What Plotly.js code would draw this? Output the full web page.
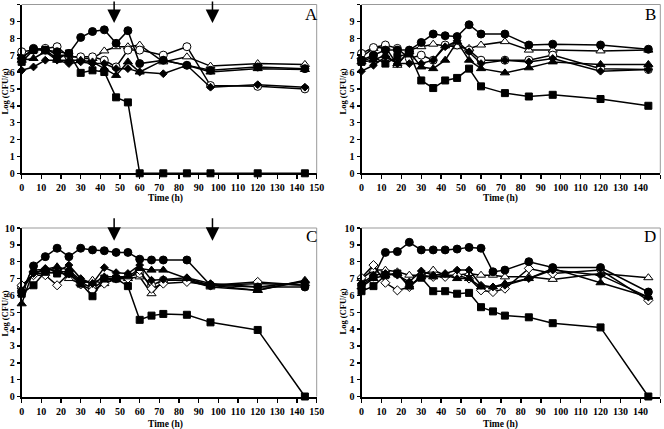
<!DOCTYPE html>
<html><head><meta charset="utf-8">
<script src="https://cdn.plot.ly/plotly-3.0.1.min.js"></script>
<style>body{margin:0;padding:0;background:#fff}#c{width:664px;height:429px}</style>
</head><body><div id="c"></div>
<script>
var tAB = [0,6,12,18,24,30,36,42,48,54,60,72,84,96,120,144];
var tCD = [0,6,12,18,24,30,36,42,48,54,60,66,72,84,96,120,144];

// Panel A
var A_fc = [6.8,7.4,7.3,7.2,7.1,8.05,8.4,8.5,7.7,8.45,6.5,6.7,6.4,6.1,6.3,6.2];
var A_oc = [7.2,7.3,7.4,7.5,6.9,6.9,6.9,6.7,6.3,7.3,7.3,7.0,7.5,5.2,5.15,5.0];
var A_ft = [6.7,6.8,7.2,6.7,6.7,6.7,6.6,6.2,5.8,6.6,6.0,6.7,6.4,6.0,6.2,6.15];
var A_ot = [6.9,7.3,7.4,7.0,7.0,6.8,6.8,7.25,7.5,7.5,7.6,6.6,6.9,6.35,6.5,6.45];
var A_fd = [6.1,6.3,6.7,6.7,6.5,6.6,6.5,6.5,6.2,6.2,6.0,5.9,6.4,5.1,5.25,5.1];
var A_fs = [6.6,7.3,7.3,6.8,7.1,5.95,6.1,6.0,4.5,4.2,0,0,0,0,0,0];

// Panel B
var B_fc = [6.7,7.0,7.3,7.3,7.3,7.75,8.25,8.15,8.1,8.8,8.25,8.25,7.6,7.65,7.6,7.35];
var B_oc = [7.1,7.45,7.6,7.4,6.8,7.0,6.7,7.6,7.6,7.3,6.7,6.7,6.7,7.0,6.2,6.15];
var B_ft = [6.6,6.7,7.0,6.5,7.2,6.3,6.2,6.7,7.8,6.7,6.2,5.95,6.25,6.6,6.45,6.45];
var B_ot = [6.9,7.4,7.5,6.4,7.3,7.5,7.65,7.55,7.5,7.4,7.6,7.8,7.3,7.3,7.25,7.3];
var B_fd = [6.05,6.4,6.9,6.5,6.5,6.5,6.7,7.5,7.85,7.2,6.5,6.7,6.6,6.8,6.05,6.15];
var B_fs = [6.6,6.9,6.5,6.9,7.1,5.5,5.05,5.5,5.65,6.2,5.15,4.75,4.55,4.65,4.4,4.0];

// Panel C
var C_fc = [6.2,7.75,8.3,8.8,8.3,8.8,8.7,8.65,8.55,8.55,8.15,8.1,8.1,8.1,6.6,6.5,6.5];
var C_oc = [6.5,7.3,7.3,7.4,7.4,6.8,6.4,6.9,7.0,7.1,7.3,6.6,6.9,6.9,6.6,6.7,6.6];
var C_ft = [5.5,7.5,7.55,7.7,7.5,6.9,6.7,7.1,7.1,7.1,7.6,7.5,7.5,7.0,6.6,6.3,6.85];
var C_ot = [6.5,7.3,7.5,7.6,7.0,6.7,6.9,6.7,7.0,7.0,7.1,6.1,6.9,6.9,6.5,6.3,6.9];
var C_fd = [6.3,7.3,7.6,7.4,7.8,7.0,6.7,7.65,7.35,7.3,7.8,6.9,6.95,7.05,6.7,6.5,6.8];
var C_od = [6.6,7.2,7.2,6.6,7.3,6.65,6.3,6.7,7.0,7.0,7.5,6.4,6.7,6.8,6.6,6.8,6.6];
var C_fs = [6.1,6.6,7.4,7.3,7.3,6.7,5.95,7.0,7.0,6.55,4.55,4.8,4.9,4.85,4.4,3.95,0];

// Panel D
var D_fc = [6.6,7.1,8.55,8.6,9.15,8.7,8.7,8.7,8.75,8.85,8.8,7.4,7.5,8.0,7.65,7.65,6.2];
var D_ot = [7.0,7.5,7.5,7.4,7.2,7.2,7.5,7.2,7.2,7.3,7.2,7.2,7.1,7.1,6.95,7.3,7.05];
var D_ft = [6.5,7.0,7.2,7.3,6.5,7.1,7.1,7.2,7.0,7.0,6.5,6.5,6.7,7.0,7.6,6.75,5.9];
var D_fd = [6.7,7.2,7.3,7.2,6.8,7.45,7.2,7.3,7.5,7.5,6.6,6.5,6.6,7.0,7.5,7.2,5.9];
var D_od = [7.05,7.8,6.75,6.3,6.5,7.2,7.1,7.1,7.2,7.0,6.3,6.2,6.4,7.6,7.3,7.5,5.7];
var D_fs = [6.25,6.55,7.2,7.3,6.6,7.05,6.25,6.25,6.1,6.15,5.3,5.05,4.8,4.7,4.35,4.1,0];

var xLabel = 'Time (h)';
var yLabel = 'Log (CFU/g)';
var panelLetters = ['A','B','C','D'];

var styles = {
  fc:{symbol:'circle',size:8,fill:'#000'},
  oc:{symbol:'circle',size:8,fill:'#fff'},
  ft:{symbol:'triangle-up',size:8,fill:'#000'},
  ot:{symbol:'triangle-up',size:8,fill:'#fff'},
  fd:{symbol:'diamond',size:6,fill:'#000'},
  od:{symbol:'diamond',size:7,fill:'#fff'},
  fs:{symbol:'square',size:7,fill:'#000'}
};

function tr(x,y,key,ax){
  var s = styles[key];
  return {x:x,y:y,type:'scatter',mode:'lines+markers',xaxis:'x'+ax,yaxis:'y'+ax,
    line:{color:'#000',width:1.5},
    marker:{symbol:s.symbol,size:s.size,color:s.fill,line:{color:'#000',width:1}},
    showlegend:false,cliponaxis:false};
}

var data = [
  tr(tAB,A_ot,'ot',''),tr(tAB,A_oc,'oc',''),tr(tAB,A_ft,'ft',''),tr(tAB,A_fd,'fd',''),tr(tAB,A_fc,'fc',''),tr(tAB,A_fs,'fs',''),
  tr(tAB,B_ot,'ot','2'),tr(tAB,B_oc,'oc','2'),tr(tAB,B_ft,'ft','2'),tr(tAB,B_fd,'fd','2'),tr(tAB,B_fc,'fc','2'),tr(tAB,B_fs,'fs','2'),
  tr(tCD,C_ot,'ot','3'),tr(tCD,C_oc,'oc','3'),tr(tCD,C_od,'od','3'),tr(tCD,C_ft,'ft','3'),tr(tCD,C_fd,'fd','3'),tr(tCD,C_fc,'fc','3'),tr(tCD,C_fs,'fs','3'),
  tr(tCD,D_ot,'ot','4'),tr(tCD,D_od,'od','4'),tr(tCD,D_ft,'ft','4'),tr(tCD,D_fd,'fd','4'),tr(tCD,D_fc,'fc','4'),tr(tCD,D_fs,'fs','4')
];

var W=664,H=429;
function px(x){return x/W;}
function py(y){return 1-y/H;}
var tickFont = {family:'Liberation Serif, Times New Roman, serif',size:10,color:'#000',weight:'bold'};
function xa(d,anchor){
  return {domain:d,range:[0,150],dtick:10,tick0:0,ticks:'outside',ticklen:4,tickwidth:1.5,tickcolor:'#000',
    showline:true,linecolor:'#000',linewidth:2,showgrid:false,zeroline:false,anchor:anchor,tickfont:tickFont,fixedrange:true};
}
function ya(d,anchor){
  return {domain:d,range:[0,10],dtick:1,tick0:0,ticks:'outside',ticklen:3,tickwidth:1.5,tickcolor:'#000',
    showline:true,linecolor:'#000',linewidth:2,showgrid:false,zeroline:false,anchor:anchor,tickfont:tickFont,fixedrange:true};
}
var dxL=[px(21.7),px(316.7)], dxR=[px(361.5),px(660.3)];
var dyT=[py(173.3),py(4.5)], dyB=[py(396.5),py(228)];

var titleFont={family:'Liberation Serif, Times New Roman, serif',size:9.5,color:'#000',weight:'bold'};
var letterFont={family:'Liberation Serif, Times New Roman, serif',size:17,color:'#000'};
var ann=[];
[[165,198],[500,198],[165,424.5],[500,424.5]].forEach(function(p){
  ann.push({xref:'paper',yref:'paper',x:px(p[0]),y:py(p[1]),text:xLabel,showarrow:false,font:titleFont,xanchor:'center',yanchor:'middle'});
});
[[4.5,92],[342.5,92],[4.5,314],[342.5,312]].forEach(function(p){
  ann.push({xref:'paper',yref:'paper',x:px(p[0]),y:py(p[1]),text:yLabel,showarrow:false,font:{family:titleFont.family,size:8.5,color:'#000',weight:'bold'},textangle:-90,xanchor:'center',yanchor:'middle'});
});
[[311,14],[650,14],[311,237],[650,236]].forEach(function(p,i){
  ann.push({xref:'paper',yref:'paper',x:px(p[0]),y:py(p[1]),text:panelLetters[i],showarrow:false,font:letterFont,xanchor:'center',yanchor:'middle'});
});
// arrows
[['x','y',47,8.9],['x','y',97,8.9],['x3','y3',47,9.25],['x3','y3',97,9.25]].forEach(function(a){
  ann.push({xref:a[0],yref:a[1],x:a[2],y:a[3],ax:0,ay:-24,text:'',showarrow:true,arrowhead:2,arrowsize:1.8,arrowwidth:1.5,arrowcolor:'#000'});
});

var shapes=[];
['','2','3','4'].forEach(function(s){
  var xr='x'+s+' domain', yr='y'+s+' domain';
  shapes.push({type:'line',xref:xr,yref:yr,x0:0,x1:1,y0:1,y1:1,line:{color:'#999',width:1}});
  shapes.push({type:'line',xref:xr,yref:yr,x0:1,x1:1,y0:0,y1:1,line:{color:'#999',width:1}});
});

var layout={width:W,height:H,margin:{l:0,r:0,t:0,b:0},paper_bgcolor:'#fff',plot_bgcolor:'#fff',showlegend:false,
  xaxis:xa(dxL,'y'),yaxis:ya(dyT,'x'),
  xaxis2:xa(dxR,'y2'),yaxis2:ya(dyT,'x2'),
  xaxis3:xa(dxL,'y3'),yaxis3:ya(dyB,'x3'),
  xaxis4:xa(dxR,'y4'),yaxis4:ya(dyB,'x4'),
  annotations:ann,shapes:shapes};
Plotly.newPlot('c',data,layout,{staticPlot:true,displayModeBar:false});
</script></body></html>
